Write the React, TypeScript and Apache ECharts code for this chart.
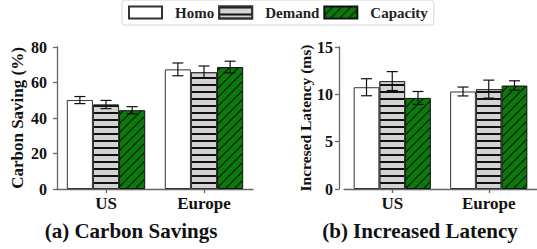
import React, { useEffect, useRef } from "react";
import * as echarts from "echarts";

const categories = ["US", "Europe"];
const seriesNames = ["Homo", "Demand", "Capacity"];

const savingHomo = [50.1, 67.4];
const savingHomoErr = [2.0, 3.6];
const savingDemand = [47.6, 65.8];
const savingDemandErr = [2.3, 3.5];
const savingCapacity = [44.4, 68.7];
const savingCapacityErr = [2.0, 3.3];

const latencyHomo = [10.75, 10.3];
const latencyHomoErr = [0.9, 0.47];
const latencyDemand = [11.4, 10.55];
const latencyDemandErr = [1.0, 0.95];
const latencyCapacity = [9.62, 10.93];
const latencyCapacityErr = [0.68, 0.5];

const savingTicks = [0, 20, 40, 60, 80];
const latencyTicks = [0, 5, 10, 15];

const FONT = "Liberation Serif";

function makeHatch(): HTMLCanvasElement {
  const s = 9;
  const c = document.createElement("canvas");
  c.width = s;
  c.height = s;
  const ctx = c.getContext("2d")!;
  ctx.fillStyle = "#0a7a0a";
  ctx.fillRect(0, 0, s, s);
  ctx.strokeStyle = "#111";
  ctx.lineWidth = 1.1;
  ctx.beginPath();
  ctx.moveTo(-1, s + 1);
  ctx.lineTo(s + 1, -1);
  ctx.moveTo(-2, 2);
  ctx.lineTo(2, -2);
  ctx.moveTo(s - 2, s + 2);
  ctx.lineTo(s + 2, s - 2);
  ctx.stroke();
  return c;
}

function errorSeries(
  name: string,
  values: number[],
  errs: number[],
  idx: number,
  gridIndex: number
) {
  return {
    type: "custom",
    name,
    xAxisIndex: gridIndex,
    yAxisIndex: gridIndex,
    z: 10,
    silent: true,
    data: values.map((v, i) => [i, v - errs[i], v + errs[i]]),
    renderItem: (params: any, api: any) => {
      const cat = api.value(0);
      const lo = api.coord([cat, api.value(1)]);
      const hi = api.coord([cat, api.value(2)]);
      const cw = api.size([1, 0])[0];
      const bw = (cw * 0.8) / 3;
      const x = lo[0] + (idx - 1) * bw;
      const half = 5.5;
      const st = { stroke: "#111", lineWidth: 1.2 };
      return {
        type: "group",
        children: [
          { type: "line", shape: { x1: x, y1: lo[1], x2: x, y2: hi[1] }, style: st },
          { type: "line", shape: { x1: x - half, y1: lo[1], x2: x + half, y2: lo[1] }, style: st },
          { type: "line", shape: { x1: x - half, y1: hi[1], x2: x + half, y2: hi[1] }, style: st },
        ],
      };
    },
  };
}

export default function App() {
  const ref = useRef<HTMLDivElement>(null);
  useEffect(() => {
    document.body.style.margin = "0";
    if (!ref.current) return;
    const chart = echarts.init(ref.current, null, { renderer: "svg" });

    const styles = [
      { color: "#ffffff", borderColor: "#333", borderWidth: 1 },
      {
        color: "#d3d3d3",
        borderColor: "#333",
        borderWidth: 1,
        decal: {
          symbol: "rect",
          symbolSize: 1,
          dashArrayX: [1, 0],
          dashArrayY: [1.2, 4.6],
          rotation: 0,
          color: "#111",
        },
      },
      {
        color: { image: makeHatch(), repeat: "repeat" },
        borderColor: "#111",
        borderWidth: 1,
      },
    ];

    const axisLine = { show: true, lineStyle: { color: "#666", width: 1.3 } };
    const axisTick = { show: true, length: 4, lineStyle: { color: "#666", width: 1.3 } };
    const tickLabel = { color: "#111", fontFamily: FONT, fontWeight: "bold", fontSize: 16 };
    const catLabel = { color: "#111", fontFamily: FONT, fontWeight: "bold", fontSize: 17, margin: 6 };

    const savingVals = [savingHomo, savingDemand, savingCapacity];
    const savingErrs = [savingHomoErr, savingDemandErr, savingCapacityErr];
    const latVals = [latencyHomo, latencyDemand, latencyCapacity];
    const latErrs = [latencyHomoErr, latencyDemandErr, latencyCapacityErr];

    const series: any[] = [];
    [savingVals, latVals].forEach((vals, g) => {
      vals.forEach((v, i) => {
        series.push({
          type: "bar",
          name: seriesNames[i],
          xAxisIndex: g,
          yAxisIndex: g,
          data: v,
          barGap: "0%",
          barCategoryGap: "20%",
          itemStyle: styles[i],
        });
      });
    });
    savingVals.forEach((v, i) =>
      series.push(errorSeries("errS" + i, v, savingErrs[i], i, 0))
    );
    latVals.forEach((v, i) =>
      series.push(errorSeries("errL" + i, v, latErrs[i], i, 1))
    );

    chart.setOption({
      animation: false,
      legend: {
        data: seriesNames.map((n) => ({ name: n, icon: "rect" })),
        left: 122,
        top: 0,
        padding: [5, 6, 5, 6],
        itemWidth: 33,
        itemHeight: 12,
        itemGap: 4,
        borderColor: "#d8d8d8",
        borderWidth: 1,
        borderRadius: 3,
        textStyle: {
          fontFamily: FONT,
          fontWeight: "bold",
          fontSize: 15,
          color: "#222",
          padding: [0, 0, 0, 8],
        },
      },
      grid: [
        { left: 57, top: 47, width: 196, height: 142 },
        { left: 344, top: 47, width: 197, height: 142 },
      ],
      xAxis: [0, 1].map((g) => ({
        type: "category",
        gridIndex: g,
        data: categories,
        axisLine,
        axisTick: { ...axisTick, alignWithLabel: true },
        axisLabel: catLabel,
      })),
      yAxis: [
        {
          type: "value",
          gridIndex: 0,
          min: savingTicks[0],
          max: savingTicks[savingTicks.length - 1],
          interval: 20,
          axisLine,
          axisTick,
          splitLine: { show: false },
          axisLabel: { ...tickLabel, margin: 10 },
          name: "Carbon Saving (%)",
          nameLocation: "middle",
          nameRotate: 90,
          nameGap: 31,
          nameTextStyle: { fontFamily: FONT, fontWeight: "bold", fontSize: 17, color: "#111" },
        },
        {
          type: "value",
          gridIndex: 1,
          min: latencyTicks[0],
          max: latencyTicks[latencyTicks.length - 1],
          interval: 5,
          offset: 5,
          axisLine,
          axisTick,
          splitLine: { show: false },
          axisLabel: { ...tickLabel, margin: 6 },
          name: "Incresed Latency (ms)",
          nameLocation: "middle",
          nameRotate: 90,
          nameGap: 25,
          nameTextStyle: { fontFamily: FONT, fontWeight: "bold", fontSize: 15.5, color: "#111" },
        },
      ],
      graphic: [
        {
          type: "text",
          x: 131,
          y: 231,
          style: {
            text: "(a) Carbon Savings",
            fontFamily: FONT,
            fontWeight: "bold",
            fontSize: 21,
            fill: "#111",
            textAlign: "center",
            textVerticalAlign: "middle",
          },
        },
        {
          type: "text",
          x: 420,
          y: 231,
          style: {
            text: "(b) Increased Latency",
            fontFamily: FONT,
            fontWeight: "bold",
            fontSize: 21,
            fill: "#111",
            textAlign: "center",
            textVerticalAlign: "middle",
          },
        },
      ],
      series,
    });
    return () => chart.dispose();
  }, []);
  return <div ref={ref} style={{ width: 537, height: 249 }} />;
}
